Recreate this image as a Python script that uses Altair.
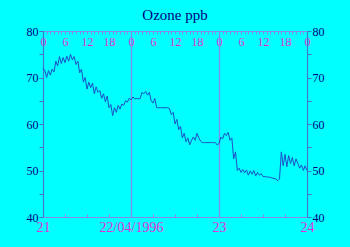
import altair as alt
import pandas as pd

ozone = [
    72.0, 71.5, 70.0, 71.5, 70.5, 71.8, 71.2, 73.5, 72.5, 74.5, 73.0, 74.3,
    73.2, 74.6, 73.5, 75.0, 73.8, 74.5, 72.8, 73.5, 71.0, 71.8, 69.0, 70.0,
    67.5, 69.0, 67.8, 68.8, 66.5, 68.0, 66.8, 67.2, 65.5, 66.5, 64.8, 66.0,
    63.5, 64.2, 61.8, 63.5, 62.5, 64.0, 63.2, 64.3, 64.0, 65.0, 64.7, 65.5,
    65.2, 65.8, 65.4, 65.5, 65.4, 65.5, 66.8, 66.5, 67.0, 66.2, 66.8, 65.0,
    64.5, 65.5, 63.5, 63.5, 63.5, 63.5, 63.5, 63.5, 63.5, 63.3, 62.0, 62.5,
    60.0, 61.0, 58.8, 59.5, 57.0, 58.0, 56.2, 57.0, 55.5, 56.5, 57.2, 56.5,
    58.0, 57.0, 56.3, 56.0, 56.0, 56.0, 56.0, 56.0, 56.0, 56.0, 56.0, 55.5,
    55.8, 57.2, 56.8, 58.0, 57.5, 58.2, 56.5, 57.0, 52.5, 54.0, 50.0, 50.5,
    49.6, 50.2, 49.5, 50.1, 49.0, 49.9, 49.2, 50.0, 48.8, 49.6, 49.0, 49.3,
    48.7, 48.7, 48.6, 48.6, 48.5, 48.4, 48.3, 48.2, 47.8, 48.2, 54.0, 51.0,
    53.5, 50.8, 53.2, 51.5, 52.8, 51.0, 52.5, 51.5, 50.5, 51.2, 50.0, 51.0,
    50.0,
]
hours = [i / 2 for i in range(len(ozone))]
day_ticks = [0, 24, 48, 72]
day_labels = ["21", "22/04/1996", "23", "24"]
hour_ticks = list(range(0, 73))
six_ticks = list(range(0, 73, 6))
y_ticks = list(range(40, 81, 5))

df = pd.DataFrame({"hour": hours, "ozone": ozone})

SERIF = "Liberation Serif"
MAG = "#e030e0"
NAVY = "#000080"
AXC = "#3a78c8"
LAV = "#8488f0"

xs = alt.Scale(domain=[0, 72], nice=False, zero=False)
ys = alt.Scale(domain=[40, 80], nice=False, zero=False)

label_expr = "{" + ",".join(f"'{t}':'{l}'" for t, l in zip(day_ticks, day_labels)) + "}[datum.value]"

line = alt.Chart(df).mark_line(color="#1e50c8", strokeWidth=1).encode(
    x=alt.X("hour:Q", scale=xs, title=None, axis=alt.Axis(
        orient="bottom", values=day_ticks, labelExpr=label_expr, ticks=False,
        domain=True, domainColor=LAV, grid=True, gridColor=LAV, gridOpacity=1,
        gridWidth=1.2, labelColor=MAG, labelFont=SERIF, labelFontSize=14, labelPadding=3,
        labelFlush=False, labelOverlap=False)),
    y=alt.Y("ozone:Q", scale=ys, title=None, axis=alt.Axis(
        orient="left", values=y_ticks, labelExpr="datum.value % 10 == 0 ? datum.value : ''",
        tickSize=4, tickColor=AXC, domainColor=AXC, grid=False,
        labelColor=NAVY, labelFont=SERIF, labelFontSize=12, labelPadding=1)),
)

top = alt.Chart(df).mark_point(opacity=0, size=1).encode(
    x=alt.X("hour:Q", scale=xs, title=None, axis=alt.Axis(
        orient="top", values=hour_ticks, offset=-3, tickSize=3, tickColor=LAV,
        domain=False, grid=False,
        labelExpr="datum.value % 6 == 0 ? (datum.value % 24) : ''",
        labelColor=MAG, labelFont=SERIF, labelFontSize=12, labelBaseline="top",
        labelPadding=-5, labelFlush=False, labelOverlap=False)),
    y=alt.Y("ozone:Q", scale=ys, title=None, axis=alt.Axis(
        orient="right", values=y_ticks, labelExpr="datum.value % 10 == 0 ? datum.value : ''",
        tickSize=4, tickColor=AXC, domainColor=AXC, grid=False,
        labelColor=NAVY, labelFont=SERIF, labelFontSize=12, labelPadding=1)),
)

topline = alt.Chart(df).mark_point(opacity=0, size=1).encode(
    x=alt.X("hour:Q", scale=xs, title=None, axis=alt.Axis(
        orient="top", values=[], domain=True, domainColor=LAV, ticks=False, labels=False, grid=False)),
    y=alt.Y("ozone:Q", scale=ys, axis=None),
)

bottom_ticks = alt.Chart(df).mark_point(opacity=0, size=1).encode(
    x=alt.X("hour:Q", scale=xs, title=None, axis=alt.Axis(
        orient="bottom", values=six_ticks, offset=-3, tickSize=3, tickColor=LAV,
        domain=False, labels=False, grid=False)),
    y=alt.Y("ozone:Q", scale=ys, axis=None),
)

chart = alt.layer(line, top, topline, bottom_ticks).resolve_axis(
    x="independent", y="independent"
).properties(
    width=264, height=186,
    title=alt.TitleParams("Ozone ppb", font=SERIF, fontSize=15, color=NAVY,
                          fontWeight="normal", anchor="middle", offset=2),
    background="#00ffff",
    padding={"left": 43, "top": 31, "right": 43, "bottom": 30},
    autosize=alt.AutoSizeParams(type="none"),
).configure_view(stroke=None)

chart.save("out.html", embed_options={"renderer": "svg", "actions": False})
